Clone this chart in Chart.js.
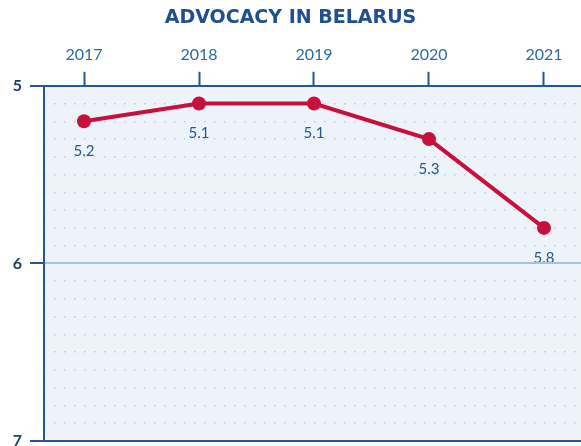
<!DOCTYPE html>
<html>
<head>
<meta charset="utf-8">
<script src="https://cdn.jsdelivr.net/npm/chart.js@4"></script>
<style>
  html, body { margin: 0; padding: 0; background: #ffffff; }
  #wrap { width: 581px; height: 446px; }
</style>
</head>
<body>
<div id="wrap"><canvas id="chart" width="581" height="446"></canvas></div>
<script>
// chart data
const years = [2017, 2018, 2019, 2020, 2021];
const scores = [5.2, 5.1, 5.1, 5.3, 5.8];
const yTicks = [5, 6, 7];
const minorTicks = [5.1, 5.2, 5.3, 5.4, 5.5, 5.6, 5.7, 5.8, 5.9, 6.1, 6.2, 6.3, 6.4, 6.5, 6.6, 6.7, 6.8, 6.9];

const darkBlue = '#24578f';
const lineRed = '#c8103e';

// light blue fill behind the plot
const plotBackground = {
    id: 'plotBackground',
    beforeDraw(chart) {
        const { ctx, chartArea } = chart;
        ctx.save();
        ctx.fillStyle = '#eef3fa';
        ctx.fillRect(chartArea.left, chartArea.top, chartArea.right - chartArea.left, chartArea.bottom - chartArea.top);
        ctx.restore();
    }
};

// value labels under each point
const valueLabels = {
    id: 'valueLabels',
    afterDatasetsDraw(chart) {
        const { ctx } = chart;
        const meta = chart.getDatasetMeta(0);
        ctx.save();
        ctx.font = '15px Lato, "Open Sans", sans-serif';
        ctx.fillStyle = '#27578a';
        ctx.textAlign = 'center';
        ctx.textBaseline = 'middle';
        meta.data.forEach((pt, i) => {
            ctx.fillText(scores[i].toFixed(1), pt.x, pt.y + 30);
        });
        ctx.restore();
    }
};

// drop the extra edge padding Chart.js reserves for labels
const noEdgePadding = (scale) => {
    scale.paddingLeft = 0;
    scale.paddingRight = 0;
    scale.paddingTop = 0;
    scale.paddingBottom = 0;
};

new Chart(document.getElementById('chart'), {
    type: 'line',
    data: {
        datasets: [{
            data: years.map((yr, i) => ({ x: yr, y: scores[i] })),
            borderColor: lineRed,
            backgroundColor: lineRed,
            borderWidth: 4,
            pointRadius: 7,
            pointHoverRadius: 7,
            pointBackgroundColor: lineRed,
            pointBorderWidth: 0,
            tension: 0,
            clip: false
        }]
    },
    options: {
        responsive: false,
        animation: false,
        layout: { autoPadding: false, padding: { left: 0, right: 0, top: 0, bottom: 5 } },
        plugins: {
            legend: { display: false },
            tooltip: { enabled: false },
            title: {
                display: true,
                text: 'ADVOCACY IN BELARUS',
                color: '#1f4f8c',
                font: { family: '"DejaVu Sans", sans-serif', size: 19, weight: 'bold' },
                padding: { top: 7, bottom: 8 }
            }
        },
        scales: {
            x: {
                type: 'linear',
                position: 'top',
                min: 2016.652,
                max: 2021.322,
                afterBuildTicks: (scale) => { scale.ticks = years.map(v => ({ value: v })); },
                afterFit: (scale) => { scale.height = 48; noEdgePadding(scale); },
                ticks: {
                    color: '#2c6ba6',
                    font: { family: 'Lato, "Open Sans", sans-serif', size: 16 },
                    padding: 7,
                    callback: (v) => String(v)
                },
                grid: {
                    drawOnChartArea: false,
                    tickLength: 14,
                    tickColor: darkBlue,
                    tickWidth: 2
                },
                border: { color: darkBlue, width: 2 }
            },
            y: {
                type: 'linear',
                position: 'left',
                reverse: true,
                min: 5,
                max: 7,
                afterBuildTicks: (scale) => { scale.ticks = yTicks.map(v => ({ value: v })); },
                afterFit: (scale) => { scale.width = 44; noEdgePadding(scale); },
                ticks: {
                    color: '#1d3f66',
                    font: { family: 'Lato, "Open Sans", sans-serif', size: 16, weight: 'bold' },
                    padding: 8
                },
                grid: {
                    tickLength: 14,
                    tickColor: darkBlue,
                    tickWidth: 2,
                    color: (c) => c.tick && c.tick.value === 6 ? '#a3c3df' : (c.tick && c.tick.value === 7 ? darkBlue : 'rgba(0,0,0,0)'),
                    lineWidth: 2,
                    z: 1
                },
                border: { color: darkBlue, width: 2, z: 2 }
            },
            yMinor: {
                type: 'linear',
                position: 'left',
                reverse: true,
                min: 5,
                max: 7,
                afterBuildTicks: (scale) => { scale.ticks = minorTicks.map(v => ({ value: v })); },
                afterFit: (scale) => { scale.width = 0; noEdgePadding(scale); },
                ticks: { display: false },
                grid: {
                    drawTicks: false,
                    color: '#bccde2',
                    lineWidth: 1.5
                },
                border: { display: false, dash: [1.5, 8.5] }
            }
        }
    },
    plugins: [plotBackground, valueLabels]
});
</script>
</body>
</html>
